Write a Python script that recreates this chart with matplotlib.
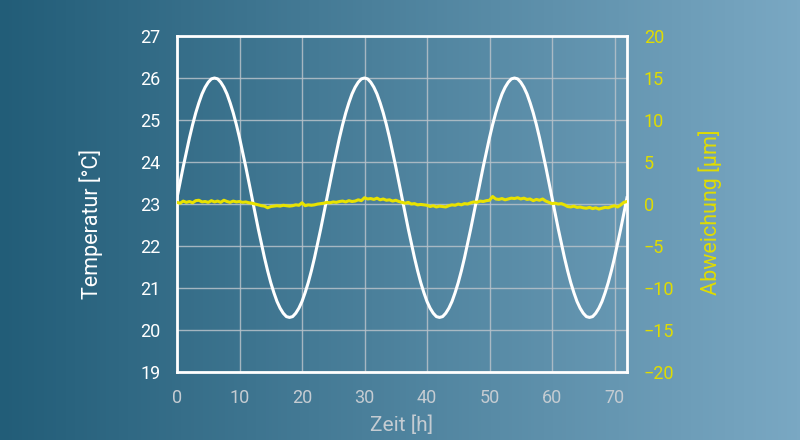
import numpy as np
import matplotlib
matplotlib.use("Agg")
import matplotlib.pyplot as plt
from matplotlib.colors import LinearSegmentedColormap

# ---- data ----
temp_hours = [i * 0.5 for i in range(145)]
temperature = [
    23.15, 23.52, 23.89, 24.24, 24.58, 24.89, 25.17, 25.41, 25.62, 25.78, 25.90, 25.98,
    26.00, 25.98, 25.90, 25.78, 25.62, 25.41, 25.17, 24.89, 24.58, 24.24, 23.89, 23.52,
    23.15, 22.78, 22.41, 22.06, 21.72, 21.41, 21.13, 20.89, 20.68, 20.52, 20.40, 20.32,
    20.30, 20.32, 20.40, 20.52, 20.68, 20.89, 21.13, 21.41, 21.72, 22.06, 22.41, 22.78,
    23.15, 23.52, 23.89, 24.24, 24.58, 24.89, 25.17, 25.41, 25.62, 25.78, 25.90, 25.98,
    26.00, 25.98, 25.90, 25.78, 25.62, 25.41, 25.17, 24.89, 24.58, 24.24, 23.89, 23.52,
    23.15, 22.78, 22.41, 22.06, 21.72, 21.41, 21.13, 20.89, 20.68, 20.52, 20.40, 20.32,
    20.30, 20.32, 20.40, 20.52, 20.68, 20.89, 21.13, 21.41, 21.72, 22.06, 22.41, 22.78,
    23.15, 23.52, 23.89, 24.24, 24.58, 24.89, 25.17, 25.41, 25.62, 25.78, 25.90, 25.98,
    26.00, 25.98, 25.90, 25.78, 25.62, 25.41, 25.17, 24.89, 24.58, 24.24, 23.89, 23.52,
    23.15, 22.78, 22.41, 22.06, 21.72, 21.41, 21.13, 20.89, 20.68, 20.52, 20.40, 20.32,
    20.30, 20.32, 20.40, 20.52, 20.68, 20.89, 21.13, 21.41, 21.72, 22.06, 22.41, 22.78,
    23.15,
]
dev_hours = [i * 0.5 for i in range(145)]
deviation = [
    0.2, 0.1, 0.35, 0.2, 0.3, 0.15, 0.4, 0.45, 0.25, 0.3, 0.2, 0.4, 0.25, 0.35, 0.2, 0.45,
    0.3, 0.2, 0.35, 0.25, 0.3, 0.2, 0.25, 0.15, 0.1,
    0.0, -0.1, -0.2, -0.25, -0.45, -0.3, -0.25, -0.2, -0.25, -0.15, -0.2, -0.25, -0.2, -0.1, -0.15, 0.15,
    -0.2, -0.1, -0.15, -0.1, 0.0, 0.05, 0.1, 0.2, 0.15, 0.25, 0.2, 0.3, 0.35, 0.25, 0.4, 0.3,
    0.35, 0.5, 0.4, 0.75,
    0.6, 0.65, 0.55, 0.7, 0.5, 0.6, 0.45, 0.5, 0.35, 0.45, 0.3, 0.2,
    0.1, 0.2, 0.0, 0.05, -0.1, -0.05, -0.1, -0.15, -0.3, -0.2, -0.35, -0.25, -0.3, -0.35, -0.2, -0.1,
    -0.15, 0.0, -0.1, 0.05, 0.0, 0.15, 0.25, 0.2, 0.35, 0.3, 0.4, 0.45,
    0.9, 0.6, 0.55, 0.65, 0.5, 0.6, 0.7, 0.65, 0.75, 0.6, 0.7, 0.55, 0.6, 0.4, 0.55, 0.45,
    0.6, 0.35, 0.2, 0.05, 0.1, 0.0, 0.05, -0.1,
    -0.3, -0.35, -0.25, -0.4, -0.35, -0.45, -0.5, -0.4, -0.55, -0.45, -0.6, -0.5, -0.4, -0.45,
    -0.3, -0.2, -0.35, -0.1, 0.2, 0.3,
]
x_ticks = [0, 10, 20, 30, 40, 50, 60, 70]
left_ticks = [19, 20, 21, 22, 23, 24, 25, 26, 27]
right_ticks = [-20, -15, -10, -5, 0, 5, 10, 15, 20]

plt.rcParams['font.family'] = ['Roboto', 'DejaVu Sans']

fig = plt.figure(figsize=(8, 4.4), dpi=100)

# background gradient
bg = fig.add_axes([0, 0, 1, 1], zorder=-10)
cmap = LinearSegmentedColormap.from_list("bg", ["#225d78", "#7aa8c3"])
grad = np.linspace(0, 1, 256).reshape(1, -1)
bg.imshow(grad, cmap=cmap, aspect="auto", extent=[0, 1, 0, 1])
bg.set_axis_off()

ax = fig.add_axes([0.22125, 0.1545, 0.5625, 0.7636])
ax.patch.set_alpha(0)
ax.plot(temp_hours, temperature, color="white", lw=2.2, zorder=3)
ax.set_xlim(0, 72)
ax.set_ylim(19, 27)
ax.set_xticks(x_ticks)
ax.set_yticks(left_ticks)
ax.grid(True, color="#b8c2ca", lw=1.0, alpha=0.85)
ax.tick_params(axis="both", length=0)
ax.tick_params(axis="y", colors="white", labelsize=13, pad=12)
ax.tick_params(axis="x", colors="#c5ccd2", labelsize=13, pad=12)
for s in ax.spines.values():
    s.set_color("white")
    s.set_linewidth(2)
ax.set_ylabel("Temperatur [°C]", color="white", fontsize=15.5)
ax.yaxis.set_label_coords(-0.165, 0.44)
ax.set_xlabel("Zeit [h]", color="#c5ccd2", fontsize=15, labelpad=6)

ax2 = ax.twinx()
ax2.plot(dev_hours, deviation, color="#e8e200", lw=2.2, zorder=4)
ax2.set_ylim(-20, 20)
ax2.set_yticks(right_ticks)
ax2.tick_params(axis="y", colors="#e0dc00", labelsize=13, pad=12, length=0)
for s in ax2.spines.values():
    s.set_visible(False)
ax2.set_ylabel("Abweichung [µm]", color="#e0dc00", fontsize=15.5, rotation=90)
ax2.yaxis.set_label_coords(1.158, 0.476)

fig.savefig("out.png", dpi=100)
